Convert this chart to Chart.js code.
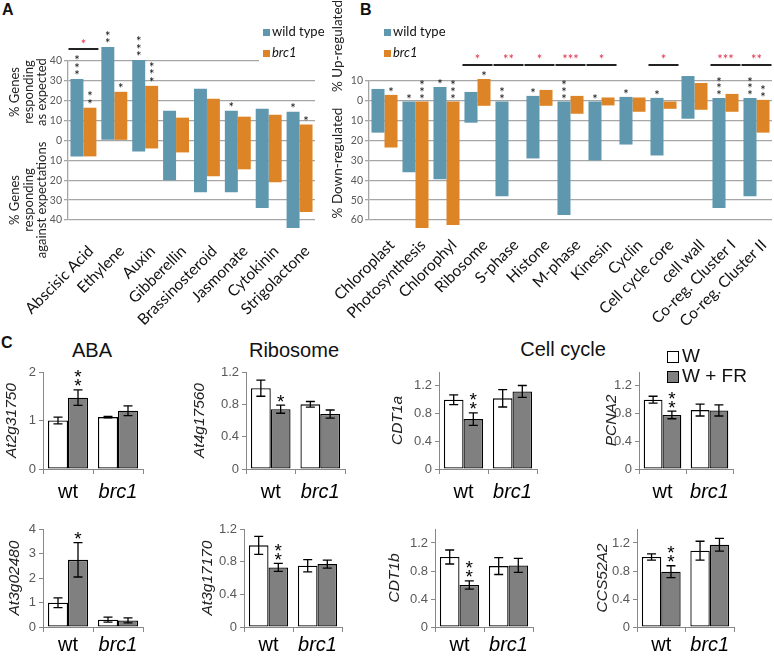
<!DOCTYPE html>
<html>
<head>
<meta charset="utf-8">
<script src="https://cdn.jsdelivr.net/npm/chart.js@4.4.1/dist/chart.umd.min.js"></script>
<style>
  body { margin: 0; background: #fff; }
  #fig { position: relative; width: 774px; height: 657px; overflow: hidden; background: #fff; font-family: "Liberation Sans", Arial, sans-serif; }
  #fig canvas { position: absolute; }
  .lbl { position: absolute; white-space: nowrap; color: #111; }
  .sq { display: inline-block; vertical-align: middle; margin-right: 2px; }
</style>
</head>
<body>
<div id="fig">
  <div class="lbl" style="left:2px;top:1px;font:bold 16px 'Liberation Sans'">A</div>
  <div class="lbl" style="left:360px;top:1px;font:bold 16px 'Liberation Sans'">B</div>
  <div class="lbl" style="left:1px;top:334px;font:bold 16px 'Liberation Sans'">C</div>

  <div class="lbl" style="left:92px;top:350px;transform:translate(-50%,-50%);font:20px 'Liberation Sans'">ABA</div>
  <div class="lbl" style="left:294px;top:350px;transform:translate(-50%,-50%);font:20px 'Liberation Sans'">Ribosome</div>
  <div class="lbl" style="left:563px;top:349px;transform:translate(-50%,-50%);font:20px 'Liberation Sans'">Cell cycle</div>
</div>

<script>
// ---------- panel A: hormone responses (% genes)
const hormones = ['Abscisic Acid', 'Ethylene', 'Auxin', 'Gibberellin', 'Brassinosteroid', 'Jasmonate', 'Cytokinin', 'Strigolactone'];
const wtExpected  = [31, 47, 40.5, 15, 26, 15, 16, 14.5];
const wtAgainst   = [8, 0, 5.5, 20, 26, 26, 34, 44];
const brcExpected = [16.5, 24.5, 27.5, 11.5, 21, 12, 13, 8];
const brcAgainst  = [8, 0, 4, 6, 18, 14.5, 21, 36];
const wtStarsA  = ['***', '**', '***', '', '', '*', '', '*'];
const brcStarsA = ['**', '*', '***', '', '', '', '', '*'];
const diffStarsA = ['*', '', '', '', '', '', '', ''];

// ---------- panel B: functional classes (% up / down regulated)
const classes = ['Chloroplast', 'Photosynthesis', 'Chlorophyl', 'Ribosome', 'S-phase', 'Histone', 'M-phase', 'Kinesin', 'Cyclin', 'Cell cycle core', 'cell wall', 'Co-reg. Cluster I', 'Co-reg. Cluster II'];
const wtUp    = [6, 0, 7, 4.5, 0, 2.5, 0, 0, 2, 1.5, 12.5, 1.5, 1.5];
const wtDown  = [16, 36, 39.5, 11, 48, 29, 57.5, 30, 22, 27.5, 9, 54, 48];
const brcUp   = [3, 0, 0, 11, 0, 5.5, 2.5, 1.7, 1.7, 0, 9, 3.5, 0.5];
const brcDown = [23.5, 64, 62.5, 2.5, 0, 2.5, 6.5, 2.3, 5.5, 4, 4.5, 5.5, 16];
const wtStarsB  = ['', '*', '*', '', '**', '*', '***', '*', '*', '*', '', '***', '***'];
const brcStarsB = ['*', '***', '***', '*', '', '', '', '', '', '', '', '', '**'];
const diffStarsB = ['', '', '', '*', '**', '*', '***', '*', '', '*', '', '***', '**'];

// ---------- panel C: qPCR, W vs W + FR
const genes = ['At2g31750', 'At4g17560', 'CDT1a', 'PCNA2', 'At3g02480', 'At3g17170', 'CDT1b', 'CCS52A2'];
const genotypes = ['wt', 'brc1'];
const wMean  = [[1.00, 1.07], [1.00, 0.80], [1.00, 1.02], [1.00, 0.85], [0.99, 0.30], [1.00, 0.75], [1.00, 0.87], [1.00, 1.09]];
const wErr   = [[0.07, 0.015], [0.10, 0.035], [0.07, 0.125], [0.05, 0.085], [0.20, 0.10], [0.11, 0.075], [0.10, 0.12], [0.045, 0.135]];
const frMean = [[1.47, 1.20], [0.74, 0.68], [0.72, 1.12], [0.78, 0.845], [2.74, 0.27], [0.73, 0.77], [0.60, 0.88], [0.79, 1.175]];
const frErr  = [[0.16, 0.10], [0.05, 0.05], [0.09, 0.085], [0.055, 0.08], [0.70, 0.10], [0.05, 0.05], [0.06, 0.10], [0.085, 0.09]];
const frStars = ['**', '*', '**', '**', '*', '**', '**', '**'];
const yMaxC  = [2, 1.2, 1.4, 1.4, 4, 1.2, 1.4, 1.4];
const yStepC = [1, 0.2, 0.2, 0.2, 1, 0.2, 0.2, 0.2];

const BLUE = '#5e97ae', ORANGE = '#dd8526', RED = '#e4304c';
const fig = document.getElementById('fig');

function addCanvas(left, top, w, h) {
  const c = document.createElement('canvas');
  c.width = w; c.height = h;
  c.style.left = left + 'px'; c.style.top = top + 'px';
  c.style.width = w + 'px'; c.style.height = h + 'px';
  fig.appendChild(c);
  return c;
}

function addText(html, left, top, font) {
  const d = document.createElement('div');
  d.className = 'lbl';
  d.style.left = left + 'px'; d.style.top = top + 'px';
  d.style.font = font;
  d.innerHTML = html;
  fig.appendChild(d);
  return d;
}

function star(ctx, txt, x, cy, size) {
  // asterisk glyph sits high in the em box
  ctx.fillText(txt, x, cy + 0.55 * size);
}

// significance stars above bars + red brackets for wt vs brc1
const sigPlugin = {
  id: 'sig',
  afterDatasetsDraw(chart, args, o) {
    const ctx = chart.ctx, top = chart.chartArea.top;
    ctx.save();
    ctx.textAlign = 'center';
    ctx.textBaseline = 'alphabetic';
    ctx.font = o.size + 'px Lato';
    ctx.fillStyle = '#111';
    o.stars.forEach((list, d) => {
      const meta = chart.getDatasetMeta(d);
      list.forEach((s, i) => {
        if (!s) return;
        const bar = meta.data[i];
        const yTop = Math.min(bar.y, bar.base);
        for (let k = 0; k < s.length; k++) star(ctx, '*', bar.x, yTop - o.gap - k * o.step, o.size);
      });
    });
    o.diff.forEach((s, i) => {
      if (!s) return;
      const a = chart.getDatasetMeta(0).data[i], b = chart.getDatasetMeta(1).data[i];
      const x1 = a.x - a.width / 2 - 2, x2 = b.x + b.width / 2 + 2;
      const yl = top - o.lineOff;
      ctx.strokeStyle = '#222'; ctx.lineWidth = 2;
      ctx.beginPath(); ctx.moveTo(x1, yl); ctx.lineTo(x2, yl); ctx.stroke();
      ctx.fillStyle = RED;
      star(ctx, s, (x1 + x2) / 2, yl - o.redOff, o.size);
    });
    ctx.restore();
  }
};

// category labels at 45 degrees, end of text hanging just right of the tick
const catPlugin = {
  id: 'cats',
  afterDraw(chart, args, o) {
    const ctx = chart.ctx, xs = chart.scales.x, y0 = chart.chartArea.bottom + o.dy;
    ctx.save();
    ctx.font = o.font;
    ctx.fillStyle = '#111';
    ctx.textAlign = 'right';
    ctx.textBaseline = 'top';
    chart.data.labels.forEach((lab, i) => {
      ctx.save();
      ctx.translate(xs.getPixelForTick(i) + o.dx, y0);
      ctx.rotate(-Math.PI / 4);
      ctx.fillText(lab, 0, 0);
      ctx.restore();
    });
    ctx.restore();
  }
};

// rotated axis titles
const vtextPlugin = {
  id: 'vtext',
  afterDraw(chart, args, o) {
    const ctx = chart.ctx;
    (o.items || []).forEach(it => {
      ctx.save();
      ctx.translate(it.x, it.y);
      ctx.rotate(-Math.PI / 2);
      ctx.font = it.font;
      ctx.fillStyle = '#222';
      ctx.textAlign = 'center';
      ctx.textBaseline = 'middle';
      ctx.fillText(it.text, 0, 0);
      ctx.restore();
    });
  }
};

function floatBars(up, down) {
  return up.map((u, i) => [-down[i], u]);
}

function regChart(canvas, labels, sets, yMin, yMax, yWidth, padTop, padRight, sig, cats, titles) {
  return new Chart(canvas, {
    type: 'bar',
    data: {
      labels: labels,
      datasets: sets.map(s => ({ label: s.label, data: s.data, backgroundColor: s.color, clip: false }))
    },
    options: {
      responsive: false, animation: false, devicePixelRatio: 1,
      layout: { padding: { top: padTop, right: padRight, left: 0, bottom: 0 } },
      datasets: { bar: { categoryPercentage: 0.84, barPercentage: 1 } },
      plugins: { legend: { display: false }, tooltip: { enabled: false }, sig: sig, cats: cats, vtext: { items: titles } },
      scales: {
        x: {
          grid: { display: false }, border: { display: false },
          ticks: { display: false },
          afterFit(s) { s.height = 110; }
        },
        y: {
          min: yMin, max: yMax,
          ticks: { stepSize: 10, callback: v => Math.abs(v), color: '#595959', padding: 2, font: { family: 'Lato', size: 10.5 } },
          grid: { color: '#a6a6a6', lineWidth: 1.3, tickLength: 4 },
          border: { color: '#a6a6a6', width: 1.3 },
          afterFit(s) { s.width = yWidth; }
        }
      }
    },
    plugins: [sigPlugin, catPlugin, vtextPlugin]
  });
}

// ---------- panel A
regChart(addCanvas(0, 0, 322, 330), hormones,
  [{ label: 'wild type', data: floatBars(wtExpected, wtAgainst), color: BLUE },
   { label: 'brc1', data: floatBars(brcExpected, brcAgainst), color: ORANGE }],
  -40, 40, 68, 61, 7,
  { stars: [wtStarsA, brcStarsA], diff: diffStarsA, size: 13, gap: 6, step: 7.5, lineOff: 12, redOff: 7 },
  { font: '15.5px Lato', dx: 2, dy: 23 },
  [{ text: '% Genes', x: 15, y: 92, font: '13px Lato' },
   { text: 'responding', x: 28.5, y: 92, font: '13px Lato' },
   { text: 'as expected', x: 41.5, y: 92, font: '13px Lato' },
   { text: '% Genes', x: 15, y: 200, font: '13px Lato' },
   { text: 'responding', x: 28.5, y: 200, font: '13px Lato' },
   { text: 'against expectations', x: 41.5, y: 200, font: '13px Lato' }]);

// ---------- panel B
regChart(addCanvas(320, 0, 454, 330), classes,
  [{ label: 'wild type', data: floatBars(wtUp, wtDown), color: BLUE },
   { label: 'brc1', data: floatBars(brcUp, brcDown), color: ORANGE }],
  -60, 10, 49, 81, 2,
  { stars: [wtStarsB, brcStarsB], diff: diffStarsB, size: 13, gap: 5, step: 6.7, lineOff: 16, redOff: 8 },
  { font: '15.5px Lato', dx: 2, dy: 17 },
  [{ text: '% Up-regulated', x: 18, y: 46, font: '13.5px Lato' },
   { text: '% Down-regulated', x: 18, y: 163, font: '13.5px Lato' }]);

// legends for A and B (white box hides the top gridline end in A)
const cover = addText('', 259, 18, '13px Lato');
cover.style.width = '62px'; cover.style.height = '46px'; cover.style.background = '#fff';
[263, 384].forEach(x => {
  addText('<span class="sq" style="width:7px;height:7px;background:' + BLUE + '"></span>wild type', x, 23, '13px Lato');
  addText('<span class="sq" style="width:7px;height:7px;background:' + ORANGE + '"></span><i>brc1</i>', x, 44, '13px Lato');
});

// ---------- panel C
const errPlugin = {
  id: 'errs',
  afterDatasetsDraw(chart, args, o) {
    const ctx = chart.ctx, ys = chart.scales.y;
    ctx.save();
    ctx.strokeStyle = '#000'; ctx.lineWidth = 1.3;
    o.err.forEach((errs, d) => {
      const meta = chart.getDatasetMeta(d);
      meta.data.forEach((bar, k) => {
        const v = chart.data.datasets[d].data[k];
        const y1 = ys.getPixelForValue(v + errs[k]), y2 = ys.getPixelForValue(v - errs[k]);
        ctx.beginPath();
        ctx.moveTo(bar.x, y1); ctx.lineTo(bar.x, y2);
        ctx.moveTo(bar.x - 4.5, y1); ctx.lineTo(bar.x + 4.5, y1);
        ctx.moveTo(bar.x - 4.5, y2); ctx.lineTo(bar.x + 4.5, y2);
        ctx.stroke();
      });
    });
    const bar = chart.getDatasetMeta(1).data[0];
    const yTop = ys.getPixelForValue(chart.data.datasets[1].data[0] + o.err[1][0]);
    ctx.fillStyle = '#000';
    ctx.font = '19px "Liberation Sans"';
    ctx.textAlign = 'center';
    ctx.textBaseline = 'alphabetic';
    for (let k = 0; k < o.star.length; k++) star(ctx, '*', bar.x, yTop - 8 - k * 9, 19);
    ctx.restore();
  }
};

// plot boxes (page px): axis left/right, top tick, zero line, title x
const cBoxes = [
  { L: 43, R: 143, T: 372, B: 469, tx: 12, pad: 6 },
  { L: 246, R: 345, T: 372, B: 469, tx: 200, pad: 6 },
  { L: 439, R: 537, T: 372, B: 469, tx: 398, pad: 6 },
  { L: 639, R: 733, T: 372, B: 469, tx: 612, pad: 6 },
  { L: 43, R: 143, T: 529, B: 627, tx: 15, pad: 1 },
  { L: 244, R: 342, T: 529, B: 627, tx: 208, pad: 1 },
  { L: 435, R: 533, T: 529, B: 627, tx: 395, pad: 1 },
  { L: 637, R: 734, T: 529, B: 627, tx: 603, pad: 1 }
];

genes.forEach((gene, i) => {
  const b = cBoxes[i];
  const yw = 60, padTop = 16, padRight = 6, xh = 30;
  const left = b.L - yw, top = b.T - padTop;
  const cv = addCanvas(left, top, b.R - b.L + yw + padRight, b.B - b.T + padTop + xh);
  new Chart(cv, {
    type: 'bar',
    data: {
      labels: genotypes,
      datasets: [
        { label: 'W', data: wMean[i], backgroundColor: '#ffffff', borderColor: '#000', borderWidth: 1.3, borderSkipped: false },
        { label: 'W + FR', data: frMean[i], backgroundColor: '#808080', borderColor: '#000', borderWidth: 1.3, borderSkipped: false }
      ]
    },
    options: {
      responsive: false, animation: false, devicePixelRatio: 1,
      layout: { padding: { top: padTop, right: padRight, left: 0, bottom: 0 } },
      datasets: { bar: { categoryPercentage: 0.8, barPercentage: 1 } },
      plugins: {
        legend: { display: false }, tooltip: { enabled: false },
        errs: { err: [wErr[i], frErr[i]], star: frStars[i] },
        vtext: { items: [{ text: gene, x: b.tx - left, y: (b.T + b.B) / 2 - top, font: 'italic 15.5px "Liberation Sans"' }] }
      },
      scales: {
        x: {
          grid: { display: true, drawOnChartArea: false, drawTicks: true, tickLength: 5, color: '#888' },
          border: { color: '#888' },
          ticks: {
            padding: b.pad, color: '#000',
            font: ctx => ({ family: 'Liberation Sans', size: 20, style: ctx.index === 1 ? 'italic' : 'normal' })
          },
          afterFit(s) { s.height = xh; }
        },
        y: {
          min: 0, max: yMaxC[i],
          ticks: { stepSize: yStepC[i], color: '#595959', padding: 3, font: { family: 'Liberation Sans', size: 13 } },
          grid: { drawOnChartArea: false, tickLength: 4, color: '#888' },
          border: { color: '#888' },
          afterFit(s) { s.width = yw; }
        }
      }
    },
    plugins: [errPlugin, vtextPlugin]
  });
});

// legend for panel C
addText('<span class="sq" style="width:10px;height:10px;border:1px solid #000;background:#fff;margin-right:3px"></span>W', 667, 345, '19px "Liberation Sans"');
addText('<span class="sq" style="width:10px;height:10px;border:1px solid #000;background:#808080;margin-right:3px"></span>W + FR', 667, 365, '19px "Liberation Sans"');
</script>
</body>
</html>
